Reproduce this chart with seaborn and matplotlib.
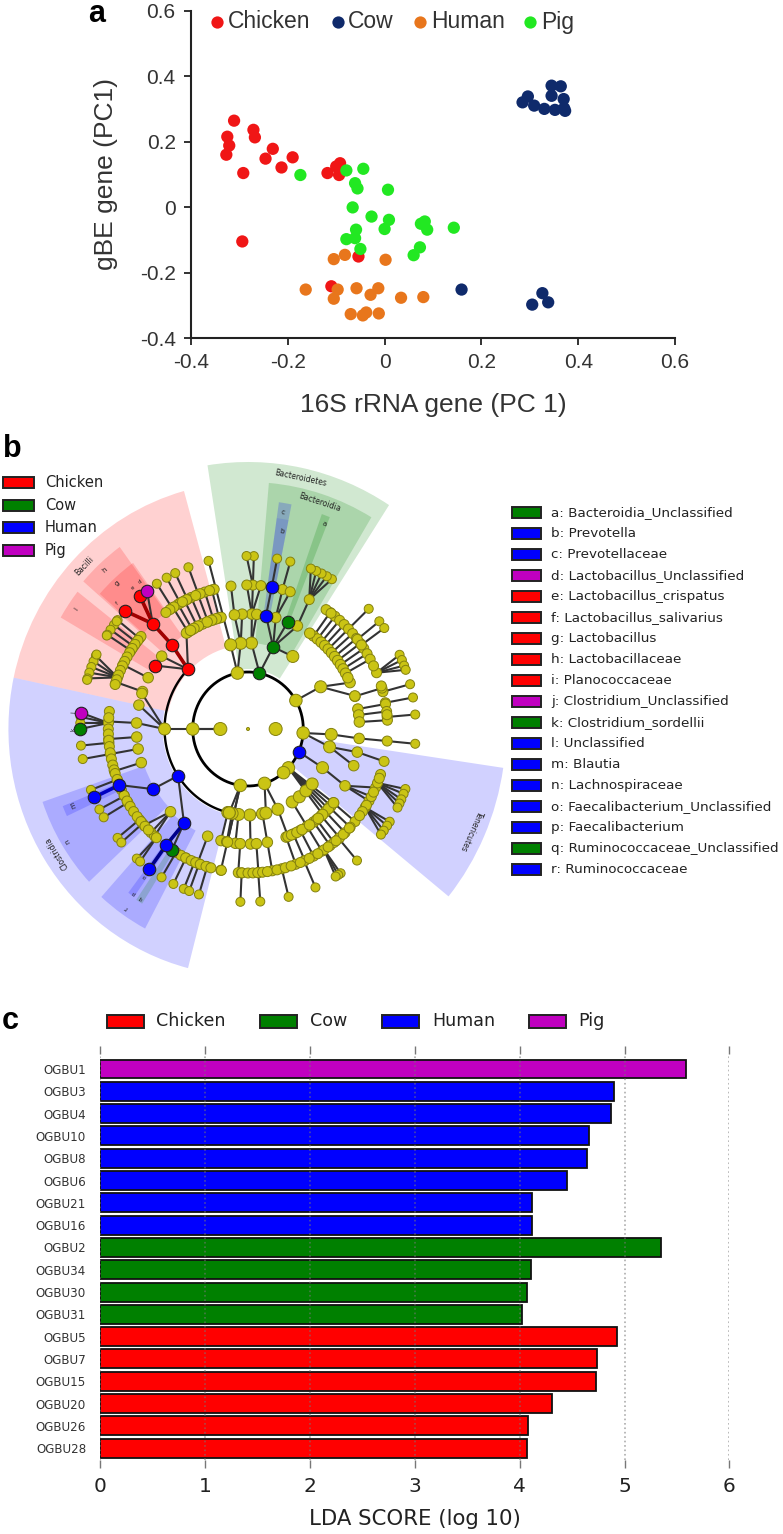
import numpy as np
import pandas as pd
import matplotlib
matplotlib.use("Agg")
import matplotlib.pyplot as plt
from matplotlib.patches import Rectangle
import seaborn as sns

W, H = 783, 1534

# ---------- panel a ----------
chicken_x = [-0.311,-0.325,-0.321,-0.327,-0.271,-0.268,-0.231,-0.190,-0.246,-0.213,-0.292,-0.118,-0.092,-0.100,-0.094,-0.294,-0.054,-0.110]
chicken_y = [0.264,0.215,0.188,0.160,0.236,0.213,0.178,0.152,0.148,0.121,0.104,0.104,0.134,0.124,0.098,-0.105,-0.151,-0.242]
cow_x = [0.345,0.364,0.345,0.370,0.296,0.285,0.309,0.330,0.352,0.371,0.373,0.159,0.326,0.338,0.305]
cow_y = [0.371,0.369,0.340,0.330,0.338,0.320,0.310,0.300,0.297,0.302,0.294,-0.252,-0.263,-0.291,-0.298]
human_x = [-0.105,-0.082,0.002,-0.163,-0.097,-0.058,-0.013,-0.029,0.034,0.080,-0.105,-0.070,-0.045,-0.038,-0.012]
human_y = [-0.159,-0.146,-0.161,-0.252,-0.252,-0.248,-0.248,-0.268,-0.277,-0.275,-0.280,-0.327,-0.331,-0.322,-0.325]
pig_x = [-0.174,-0.079,-0.044,-0.061,-0.056,0.007,-0.066,-0.027,0.009,0.000,-0.059,-0.061,-0.079,-0.050,0.073,0.060,0.075,0.083,0.088,0.143]
pig_y = [0.098,0.112,0.117,0.073,0.057,0.053,-0.001,-0.029,-0.039,-0.067,-0.069,-0.095,-0.098,-0.128,-0.123,-0.147,-0.051,-0.044,-0.069,-0.063]
a_ticks = [-0.4,-0.2,0,0.2,0.4,0.6]
a_ticklabels = ["-0.4","-0.2","0","0.2","0.4","0.6"]
a_hosts = ["Chicken","Cow","Human","Pig"]
a_palette = ["#f01616","#0f2a6b","#e8761c","#22e822"]

# ---------- panel b ----------
group_names = ["Chicken","Cow","Human","Pig"]
group_colors = ["#ff0000","#008000","#0000ff","#c000c0"]
taxa_labels = ["a: Bacteroidia_Unclassified","b: Prevotella","c: Prevotellaceae","d: Lactobacillus_Unclassified",
               "e: Lactobacillus_crispatus","f: Lactobacillus_salivarius","g: Lactobacillus","h: Lactobacillaceae",
               "i: Planococcaceae","j: Clostridium_Unclassified","k: Clostridium_sordellii","l: Unclassified",
               "m: Blautia","n: Lachnospiraceae","o: Faecalibacterium_Unclassified","p: Faecalibacterium",
               "q: Ruminococcaceae_Unclassified","r: Ruminococcaceae"]
taxa_colors = ["#008000","#0000ff","#0000ff","#c000c0","#ff0000","#ff0000","#ff0000","#ff0000","#ff0000",
               "#c000c0","#008000","#0000ff","#0000ff","#0000ff","#0000ff","#0000ff","#008000","#0000ff"]

# wedges: start angle, end angle, inner radius, outer radius, colour, opacity
clade_wedges = [
    (57,99,60,267,"#008000",0.18),(59,85,86,247,"#008000",0.18),(78.7,82,115,229,"#0000ff",0.2),
    (78.7,82,144,213,"#0000ff",0.1),(68.3,70.5,115,228,"#008000",0.2),
    (105.5,168,84,247,"#ff0000",0.18),(126,139,115,225,"#ff0000",0.18),(125.5,138.5,144,204,"#ff0000",0.18),
    (142,150,112,223,"#ff0000",0.18),
    (168,255.5,88,247,"#0000ff",0.18),(199,223,113,224,"#0000ff",0.18),(202,205,144,206,"#0000ff",0.18),
    (228,242,115,226,"#0000ff",0.18),(233,235,144,205,"#0000ff",0.18),(236,238,144,206,"#008000",0.18),
    (-39,-8.4,57,266,"#0000ff",0.18),
]
# node levels -> radial distance
level_radius = {0:0,1:28.5,2:57,3:86,4:115,5:144,6:173}
level_dot = {0:3,1:13,2:12.5,3:12,4:10.5,5:10,6:9}
ring_l2 = (0,360)
ring_l3 = [(136,256),(257,290)]
# spokes: (inner level, outer level, angles)
spokes = [
    (4,5,[105,108,111,114,117,120,122.5]),(5,6,[110.8,115.7,119,122.9]),(5,6,[141,143,145,147]),
    (4,5,[153.5,161]),(4,5,[177,184,190,197]),(5,6,[185.5,190]),
    (5,6,[200.6,207.7,210.7,219,221]),(5,6,[239,243.6,247.5,249.5,253]),(3,4,[256]),
    (3,4,[-88.7,-96.5,-80,-101]),(4,5,[-94,-85.7,-80,-70,-66,-62,-58,-54]),(5,6,[-92.6,-85.8,-76,-66.3,-49.5]),
    (4,5,[-40,-43,-46,-49,-52]),(4,5,[54,51.5,49,46.5,44,41.5,39,36.5,34,31.5,29]),(5,6,[44,38.5,35.7]),
    (5,6,[15,10.5,4.8]),(4,5,[16.5,10,7,3.5]),(3,4,[-58,-69]),
]
# branches: (parent level, parent angle, child level, child angles)
branches = [
    (0,0,1,[0,180]),(1,180,2,[180]),(2,78,3,[72.5,87.6]),(3,72.5,3,[57.5]),(3,72.5,4,[69,63.7,80.7,75.6]),(4,63.7,5,[64]),
    (5,64,6,[60,62,64,66,68]),(5,159,6,[155,157,159,161,163]),
    (4,80.7,5,[80.2]),(5,80.2,6,[80]),(4,75.6,5,[75.7,72.4]),(5,75.7,6,[75.4]),(3,87.6,4,[88,85.5]),
    (4,88,5,[88,84.7,90.5]),(5,88,6,[88,90.5]),(2,101,3,[95,102]),(3,95,4,[93,97]),(4,97,5,[97]),(3,102,6,[103.6]),
    (3,136,4,[133,123.5,140.7,146.5]),(4,133,5,[133]),(5,133,6,[130,137,127]),
    (5,177.6,6,[174.6,176,178,180]),(2,180,3,[180]),(3,180,4,[177,168,162]),
    (3,213,4,[211.5,235]),(4,211.5,5,[202.9]),(5,202.9,6,[203.3]),(4,235,5,[234,237]),(5,234,6,[234]),
    (4,226,5,[222,226,228]),(4,248.8,5,[248.8]),(5,229,6,[228.5,230]),(2,262,5,[258.8]),(2,262,3,[257]),(2,262,4,[259.4]),
    (2,-72.6,3,[-77.6,-69]),(2,-43,4,[-40,-42,-44,-46,-48]),(5,-57,6,[-56.5,-57.5,-58.5]),
    (2,-4,3,[-3.6,-12]),(3,-3.6,4,[-4.7]),(4,-4.7,5,[-4.8]),(5,-4.8,6,[-4.9]),(3,-12,4,[-11.6,-18.6]),
    (4,-11.6,5,[-13]),(2,-23.5,3,[-26.7]),(3,-26.7,4,[-29.6]),(4,-29.6,5,[-30,-28,-24]),
    (5,-22,6,[-20.3,-22,-24,-25.5,-27]),(5,-33,6,[-32.4,-34,-36,-37.6]),
    (2,30,3,[29.4]),(3,29.4,4,[16.7,23.8]),(5,23,6,[25.4,23.5,21.5,20]),(1,180,2,[180]),
]
# thick coloured edges: colour, (level, angle) chain
colored_edges = [
    ("#a00000",[(3,136),(4,133),(5,133),(6,130)]),("#a00000",[(5,133),(6,137)]),
    ("#0000c0",[(5,202.9),(6,203.3)]),("#00008c",[(4,235),(5,234),(6,234)]),
]
# extra nodes on the arcs: level -> angles
arc_nodes = {
    2:[101,30,-4,-43,-50,-72.6,262],
    3:[-103,-52,-46,-39.7,136,213],
    4:[104,106.5,109,111.5,114,116.5,119,121,123.5,140.7,-85.7,-70,-67,-64,-61,-56.5,-51,-48,-39.9,56.4,26.5,248.8,226],
    5:[104,106,108,110,112,114,116,118,120,122,124,126,140,142,144,146,148,150,152,154,156,158,160,162,
       173,175.5,177.6,180,182,184.5,187,189.5,192,194.5,196.5,198,200.5,205,207.5,210,212.5,215,217.5,220,222.5,224.5,229,
       241.3,243.5,246,248,250,252.5,254.6,-101,-92.5,-90,-88,-86,-84,-82,-78,-76,-74.5,-72,-68,-64,-60,-57,-55,-50.9,-47,-43.5,
       -18.4,-20,-22,-26,-32,-33,-35,-37,56,53.5,23,26,17.4,15,10,5.7,84.7,75.7],
    6:[141.5,147.3,154.5,163.5],
}
# coloured nodes: (level, angle)
red_nodes = [(3,136),(4,133),(5,133),(6,130),(6,137),(4,146.5)]
green_nodes = [(2,78),(3,72.5),(4,69),(6,180),(5,237)]
blue_nodes = [(4,80.7),(5,80.2),(3,213),(4,211.5),(5,202.9),(6,203.3),(4,235),(5,234),(6,234),(2,-23.5)]
magenta_nodes = [(6,127),(6,174.6)]
# labels: text, angle, radial distance, size
clade_labels = [("Bacteroidetes",77.9,257,5.5),("Bacteroidia",71.9,238,5.5),("a",69,220,5),("c",80.6,220,5),("b",80,201,5),
                ("Bacilli",136,234,5.5),("h",133,217,5),("g",132.8,199,5),("i",146,214,5),
                ("Clostridia",212,233,5.5),("n",211,217,5),("m",202.8,196,5),("r",234.9,219,5),("p",234.3,202,4),
                ("o",234,182,4),("q",236.7,202,4),("j",175,180,4),("k",180,180,4),("d",127,184,4),("e",130,184,4),("f",137,184,4),
                ("Tenericutes",-24,252,5.5)]

# ---------- panel c ----------
ogbu_names = ["OGBU1","OGBU3","OGBU4","OGBU10","OGBU8","OGBU6","OGBU21","OGBU16","OGBU2","OGBU34","OGBU30","OGBU31",
              "OGBU5","OGBU7","OGBU15","OGBU20","OGBU26","OGBU28"]
lda_scores = [5.59,4.90,4.87,4.66,4.64,4.45,4.12,4.12,5.35,4.11,4.07,4.02,4.93,4.74,4.73,4.31,4.08,4.07]
ogbu_hosts = ["Pig"]+["Human"]*7+["Cow"]*4+["Chicken"]*6
lda_ticks = [0,1,2,3,4,5,6]

sns.set_style("ticks")
plt.rcParams["font.family"] = ["DejaVu Sans"]
fig = plt.figure(figsize=(W/100,H/100),dpi=100,facecolor="white")

def box(l,t,r,b):
    return [l/W,1-b/H,(r-l)/W,(b-t)/H]

# ---- a ----
ax = fig.add_axes(box(191,10.7,675,338))
df = pd.concat([
    pd.DataFrame({"x":chicken_x,"y":chicken_y,"host":"Chicken"}),
    pd.DataFrame({"x":cow_x,"y":cow_y,"host":"Cow"}),
    pd.DataFrame({"x":human_x,"y":human_y,"host":"Human"}),
    pd.DataFrame({"x":pig_x,"y":pig_y,"host":"Pig"})])
sns.scatterplot(data=df,x="x",y="y",hue="host",hue_order=a_hosts,palette=a_palette,s=78,linewidth=0,ax=ax,legend=False,clip_on=False)
ax.set_xlim(-0.4,0.6); ax.set_ylim(-0.4,0.6)
ax.set_xticks(a_ticks); ax.set_xticklabels(a_ticklabels,family="Liberation Sans",fontsize=15,color="#333333")
ax.set_yticks(a_ticks); ax.set_yticklabels(a_ticklabels,family="Liberation Sans",fontsize=15,color="#333333")
ax.tick_params(length=5,width=1.3,color="#222222",pad=6)
ax.set_xlabel("16S rRNA gene (PC 1)",family="Liberation Sans",fontsize=19,color="#333333",labelpad=15)
ax.set_ylabel("gBE gene (PC1)",family="Liberation Sans",fontsize=19,color="#333333",labelpad=16)
for s in ["top","right"]: ax.spines[s].set_visible(False)
for s in ["left","bottom"]:
    ax.spines[s].set_linewidth(1.5); ax.spines[s].set_color("#222222")

# ---- b ----
R = 270
HS = 0.97   # the picture is slightly narrower than tall
pax = fig.add_axes(box(248-R*HS,729-R,248+R*HS,729+R),projection="polar")
pax.set_aspect("auto")
pax.set_rlim(0,R); pax.set_axis_off(); pax.patch.set_alpha(0)
for a0,a1,r0,r1,c,al in clade_wedges:
    pax.bar(np.radians((a0+a1)/2),r1-r0,width=np.radians(a1-a0),bottom=r0,color=c,alpha=al,linewidth=0,zorder=1)

def th(a): return np.radians(a)
LR = level_radius
tt = np.radians(np.linspace(0,360,361))
pax.plot(tt,np.full_like(tt,LR[2]),color="black",lw=2,zorder=2.5)
for a0,a1 in ring_l3:
    t = np.radians(np.linspace(a0,a1,120))
    pax.plot(t,np.full_like(t,LR[3]),color="black",lw=1.7,zorder=2.5)

nodes = {}
def add(level,a):
    nodes[(level,a)] = True
for lo,hi,angs in spokes:
    for a in angs:
        pax.plot([th(a),th(a)],[LR[lo],LR[hi]],color="#333333",lw=1.5,zorder=2)
        add(lo,a); add(hi,a)
for pl,pa,cl,angs in branches:
    if pl==0:
        add(0,0)
        for a in angs: add(cl,a)
        continue
    add(pl,pa)
    for a in angs:
        pax.plot([th(pa),th(a)],[LR[pl],LR[cl]],color="#333333",lw=1.5,zorder=2)
        add(cl,a)
for c,chain in colored_edges:
    pax.plot([th(k[1]) for k in chain],[LR[k[0]] for k in chain],color=c,lw=2.6,zorder=2.7)
for lv,angs in arc_nodes.items():
    for a in angs: add(lv,a)
special = set(red_nodes+green_nodes+blue_nodes+magenta_nodes)
keys = [k for k in nodes if k not in special]
pax.scatter([th(k[1]) for k in keys],[LR[k[0]] for k in keys],
            s=[(level_dot[k[0]]*0.72)**2 for k in keys],
            facecolor="#cac414",edgecolor="#85820f",linewidth=0.7,zorder=3)
for lst,c in [(red_nodes,"#ff0000"),(green_nodes,"#008000"),(blue_nodes,"#0000ff"),(magenta_nodes,"#c000c0")]:
    pax.scatter([th(k[1]) for k in lst],[LR[k[0]] for k in lst],s=(12.5*0.72)**2,
                facecolor=c,edgecolor="#222222",linewidth=0.8,zorder=4)
for txt,a,r,fs in clade_labels:
    pax.text(th(a),r,txt,rotation=a-90,rotation_mode="anchor",ha="center",va="center",fontsize=fs,color="#222222",zorder=5)

# ---- c ----
cax = fig.add_axes(box(100,1054,100+6*104.9,1460))
cdf = pd.DataFrame({"name":ogbu_names,"score":lda_scores,"host":ogbu_hosts})
sns.barplot(data=cdf,y="name",x="score",hue="host",hue_order=group_names,palette=group_colors,order=ogbu_names,
            dodge=False,width=0.85,edgecolor="#111111",linewidth=1.3,legend=False,ax=cax,saturation=1)
cax.set_xlim(0,6); cax.set_ylim(17.53,-0.673)
cax.set_xticks(lda_ticks)
cax.tick_params(axis="x",top=True,bottom=True,length=5.5,width=1,color="#777777",labelsize=14.5,labelcolor="#222222",pad=7)
cax.tick_params(axis="y",length=0,labelsize=8.6,labelcolor="#333333",pad=10)
cax.grid(axis="x",ls=":",color="#777777",lw=1.2,alpha=0.6)
cax.set_axisbelow(False)
cax.set_ylabel("")
cax.set_xlabel("LDA SCORE (log 10)",fontsize=15.3,color="#222222",labelpad=9)
for s in cax.spines.values(): s.set_visible(False)

# ---- overlay: legends, panel letters ----
ov = fig.add_axes([0,0,1,1],zorder=10)
ov.set_xlim(0,W); ov.set_ylim(H,0); ov.axis("off"); ov.patch.set_alpha(0)
def swatch(x0,x1,y0,y1,c):
    ov.add_patch(Rectangle((x0,y0),x1-x0,y1-y0,facecolor=c,edgecolor="#222222",lw=1.4))

for name,c,mx,tx in zip(a_hosts,a_palette,[217,338,420,530],[228,348,431,541]):
    ov.scatter([mx],[22],s=78,color=c,linewidth=0)
    ov.text(tx,22,name,family="Liberation Sans",fontsize=16.5,color="#333333",va="center")

for i,(n,c) in enumerate(zip(group_names,group_colors)):
    y = 482.5+22.5*i
    swatch(3,34,y-5.5,y+5.5,c)
    ov.text(45,y,n,fontsize=10.5,color="#222222",va="center")

for i,(n,c) in enumerate(zip(taxa_labels,taxa_colors)):
    y = 512.7+21*i
    swatch(512,541,y-5.5,y+5.5,c)
    ov.text(551,y,n,fontsize=9.7,color="#222222",va="center")

for n,c,x0,tx in zip(group_names,group_colors,[107,260,382,529],[156,310,432,578]):
    swatch(x0,x0+37,1015,1028,c)
    ov.text(tx,1021.5,n,fontsize=12.6,color="#222222",va="center")

for l,x,y in [("a",97,14),("b",12,449),("c",10,1021)]:
    ov.text(x,y,l,family="Liberation Sans",fontweight="bold",fontsize=22,ha="center",va="center",color="black")

fig.savefig("out.png",dpi=100)
